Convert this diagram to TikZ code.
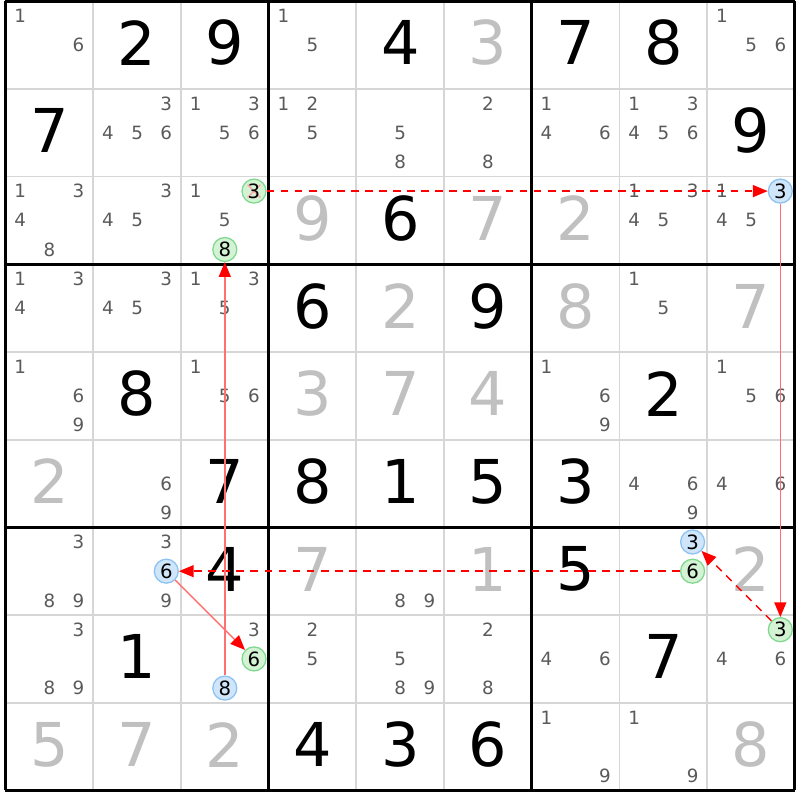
\documentclass[tikz,border=0pt]{standalone}
\usepackage{fontspec}
\setmainfont{DejaVu Sans}
\usetikzlibrary{arrows.meta}
\def\cellsize{2.193cm}
\def\gridx{0.1375cm}
\def\gridy{0.025cm}
\def\candoff{0.73cm}
\definecolor{candgrey}{HTML}{5A5A5A}
\definecolor{solvedgrey}{HTML}{C0C0C0}
\definecolor{thingrey}{HTML}{D6D6D6}
\definecolor{onfill}{HTML}{CFE5FA}
\definecolor{onborder}{HTML}{8CC2F2}
\definecolor{offfill}{HTML}{D4F2D4}
\definecolor{offborder}{HTML}{7ED98E}
\definecolor{linkred}{HTML}{FF0000}
\definecolor{strongred}{HTML}{FF7070}
\tikzset{
    given/.style={font=\fontsize{43}{43}\selectfont, inner sep=0pt},
    solved/.style={given, text=solvedgrey},
    cand/.style={font=\fontsize{13}{13}\selectfont, text=candgrey, inner sep=0pt},
    oncand/.style={cand, font=\fontsize{14}{14}\selectfont, text=black, circle, draw=onborder, fill=onfill, line width=0.9pt, minimum size=0.6cm},
    offcand/.style={oncand, draw=offborder, fill=offfill},
    elim/.style={path picture={
        \draw[red!35, line width=1pt, shorten <=0.2cm, shorten >=0.2cm]
            (path picture bounding box.north west) -- (path picture bounding box.south east);
        \draw[red!35, line width=1pt, shorten <=0.2cm, shorten >=0.2cm]
            (path picture bounding box.north east) -- (path picture bounding box.south west);
    }},
    weak/.style={draw=linkred, line width=1.1pt, dash pattern=on 5.5pt off 4.5pt, -{Triangle[length=10.5pt,width=8.5pt,color=linkred]}},
    strong/.style={draw=strongred, line width=1.1pt, -{Triangle[length=10.5pt,width=8.5pt,color=linkred]}}
}
\newcommand{\given}[3]{
    \node[given] (r#1c#2) at ([yshift=0.05cm]c#1#2) {#3};
}
\newcommand{\solved}[3]{
    \node[solved] (r#1c#2) at ([yshift=0.05cm]c#1#2) {#3};
}
\newcommand{\candnode}[4]{
    \pgfmathsetmacro\candcol{mod(#3-1,3)-1}
    \pgfmathsetmacro\candrow{int((#3-1)/3)-1}
    \node[#4] (r#1c#2n#3) at ([shift={(\candcol*\candoff,-\candrow*\candoff)}]c#1#2) {#3};
}
\newcommand{\cands}[3]{
    \foreach \n in {#3} {\candnode{#1}{#2}{\n}{cand}}
}

\begin{document}
\begin{tikzpicture}
    \fill[white] (0,0) rectangle (20,-20);
    \useasboundingbox (0,0) rectangle (20,-20);
    % cell centres
    \foreach \r in {1,...,9}
        \foreach \c in {1,...,9}
            \coordinate (c\r\c) at ({\gridx+(\c-0.5)*\cellsize}, {-\gridy-(\r-0.5)*\cellsize});
    % grid
    \foreach \i in {1,2,4,5,7,8} {
        \draw[thingrey, line width=0.045cm] ({\gridx+\i*\cellsize}, -\gridy) -- ++(0, -9*\cellsize);
        \draw[thingrey, line width=0.045cm] (\gridx, {-\gridy-\i*\cellsize}) -- ++(9*\cellsize, 0);
    }
    \foreach \i in {0,3,6,9} {
        \draw[black, line width=0.075cm] ({\gridx+\i*\cellsize}, -\gridy) -- ++(0, -9*\cellsize);
        \draw[black, line width=0.075cm] (\gridx, {-\gridy-\i*\cellsize}) -- ++(9*\cellsize, 0);
    }

    \cands{1}{1}{1,6} \given{1}{2}{2} \given{1}{3}{9}
    \cands{1}{4}{1,5} \given{1}{5}{4} \solved{1}{6}{3}
    \given{1}{7}{7} \given{1}{8}{8} \cands{1}{9}{1,5,6}

    \given{2}{1}{7} \cands{2}{2}{3,4,5,6} \cands{2}{3}{1,3,5,6}
    \cands{2}{4}{1,2,5} \cands{2}{5}{5,8} \cands{2}{6}{2,8}
    \cands{2}{7}{1,4,6} \cands{2}{8}{1,3,4,5,6} \given{2}{9}{9}

    \cands{3}{1}{1,3,4,8} \cands{3}{2}{3,4,5} \cands{3}{3}{1,5}
    \candnode{3}{3}{3}{offcand,elim} \candnode{3}{3}{8}{offcand}
    \solved{3}{4}{9} \given{3}{5}{6} \solved{3}{6}{7}
    \solved{3}{7}{2} \cands{3}{8}{1,3,4,5} \cands{3}{9}{1,4,5}
    \candnode{3}{9}{3}{oncand}

    \cands{4}{1}{1,3,4} \cands{4}{2}{3,4,5} \cands{4}{3}{1,3,5}
    \given{4}{4}{6} \solved{4}{5}{2} \given{4}{6}{9}
    \solved{4}{7}{8} \cands{4}{8}{1,5} \solved{4}{9}{7}

    \cands{5}{1}{1,6,9} \given{5}{2}{8} \cands{5}{3}{1,5,6}
    \solved{5}{4}{3} \solved{5}{5}{7} \solved{5}{6}{4}
    \cands{5}{7}{1,6,9} \given{5}{8}{2} \cands{5}{9}{1,5,6}

    \solved{6}{1}{2} \cands{6}{2}{6,9} \given{6}{3}{7}
    \given{6}{4}{8} \given{6}{5}{1} \given{6}{6}{5}
    \given{6}{7}{3} \cands{6}{8}{4,6,9} \cands{6}{9}{4,6}

    \cands{7}{1}{3,8,9} \cands{7}{2}{3,9} \candnode{7}{2}{6}{oncand}
    \given{7}{3}{4} \solved{7}{4}{7} \cands{7}{5}{8,9} \solved{7}{6}{1}
    \given{7}{7}{5} \candnode{7}{8}{3}{oncand} \candnode{7}{8}{6}{offcand}
    \solved{7}{9}{2}

    \cands{8}{1}{3,8,9} \given{8}{2}{1} \cands{8}{3}{3}
    \candnode{8}{3}{6}{offcand} \candnode{8}{3}{8}{oncand}
    \cands{8}{4}{2,5} \cands{8}{5}{5,8,9} \cands{8}{6}{2,8}
    \cands{8}{7}{4,6} \given{8}{8}{7} \cands{8}{9}{4,6}
    \candnode{8}{9}{3}{offcand}

    \solved{9}{1}{5} \solved{9}{2}{7} \solved{9}{3}{2}
    \given{9}{4}{4} \given{9}{5}{3} \given{9}{6}{6}
    \cands{9}{7}{1,9} \cands{9}{8}{1,9} \solved{9}{9}{8}

    % chain
    \draw[weak] (r3c3n3) -- (r3c9n3);
    \draw[strong] (r3c9n3) -- (r8c9n3);
    \draw[weak] (r8c9n3) -- (r7c8n3);
    \draw[weak] (r7c8n6) -- (r7c2n6);
    \draw[strong] (r7c2n6) -- (r8c3n6);
    \draw[strong] (r8c3n8) -- (r3c3n8);
\end{tikzpicture}
\end{document}
